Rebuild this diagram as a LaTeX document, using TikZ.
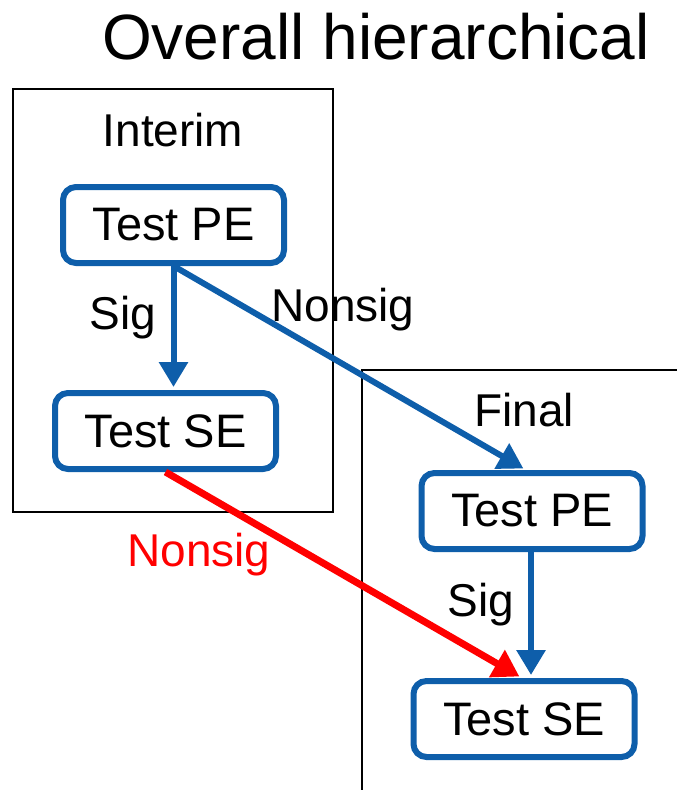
\documentclass[tikz,border=0pt]{standalone}
\usepackage{fontspec}
\setmainfont{Liberation Sans}
\usetikzlibrary{arrows.meta,calc}
\definecolor{boxblue}{RGB}{14,94,170}
\definecolor{alertred}{RGB}{255,0,0}
\tikzset{
  testbox/.style={draw=boxblue, line width=6pt, rounded corners=13pt,
    minimum width=221pt, minimum height=76pt, inner sep=0pt,
    font=\fontsize{47}{52}\selectfont},
  lbl/.style={inner sep=0pt, font=\fontsize{46}{52}\selectfont},
  frame/.style={draw=black, line width=1.5pt},
  bluearrow/.style={draw=boxblue, line width=6pt, shorten >=3pt,
    -{Triangle[length=25pt,width=28pt]}},
  redarrow/.style={draw=alertred, line width=7pt, shorten >=3pt,
    -{Triangle[length=26pt,width=30pt]}}
}
\begin{document}
\begin{tikzpicture}[x=1pt,y=-1pt]
\useasboundingbox (0,0) rectangle (677,790);

% stage frames
\draw[frame] (13,89) rectangle (333,512);
\draw[frame] (677,370) -- (362,370) -- (362,790);

% titles
\node[lbl, font=\fontsize{64}{70}\selectfont] (title) at (376,37) {Overall hierarchical};
\node[lbl] (interim) at (173,130) {Interim};
\node[lbl] (final) at (524,410) {Final};

% tests
\node[testbox] (ipe) at (173.5,225) {Test PE};
\node[testbox] (ise) at (165.5,431) {Test SE};
\node[testbox] (fpe) at (532,511) {Test PE};
\node[testbox] (fse) at (524,719) {Test SE};

\coordinate (fpein) at ($(fpe.north)+(-6,0)$);
\coordinate (fsein) at ($(fse.north)+(-2,0)$);
\coordinate (fseup) at ($(fse.north)+(7,0)$);

% transitions
\draw[bluearrow] (ipe.south) -- (ipe.south |- ise.north);
\draw[bluearrow] (ipe.south) -- (fpein);
\draw[bluearrow] (fpe.south -| fseup) -- (fseup);
\draw[redarrow] (ise.south) -- (fsein);

% transition labels
\node[lbl] (sig1) at (123,318) {Sig};
\node[lbl] (ns1) at (343,310) {Nonsig};
\node[lbl] (sig2) at (481,605) {Sig};
\node[lbl, text=alertred] (ns2) at (199,555) {Nonsig};
\end{tikzpicture}
\end{document}
